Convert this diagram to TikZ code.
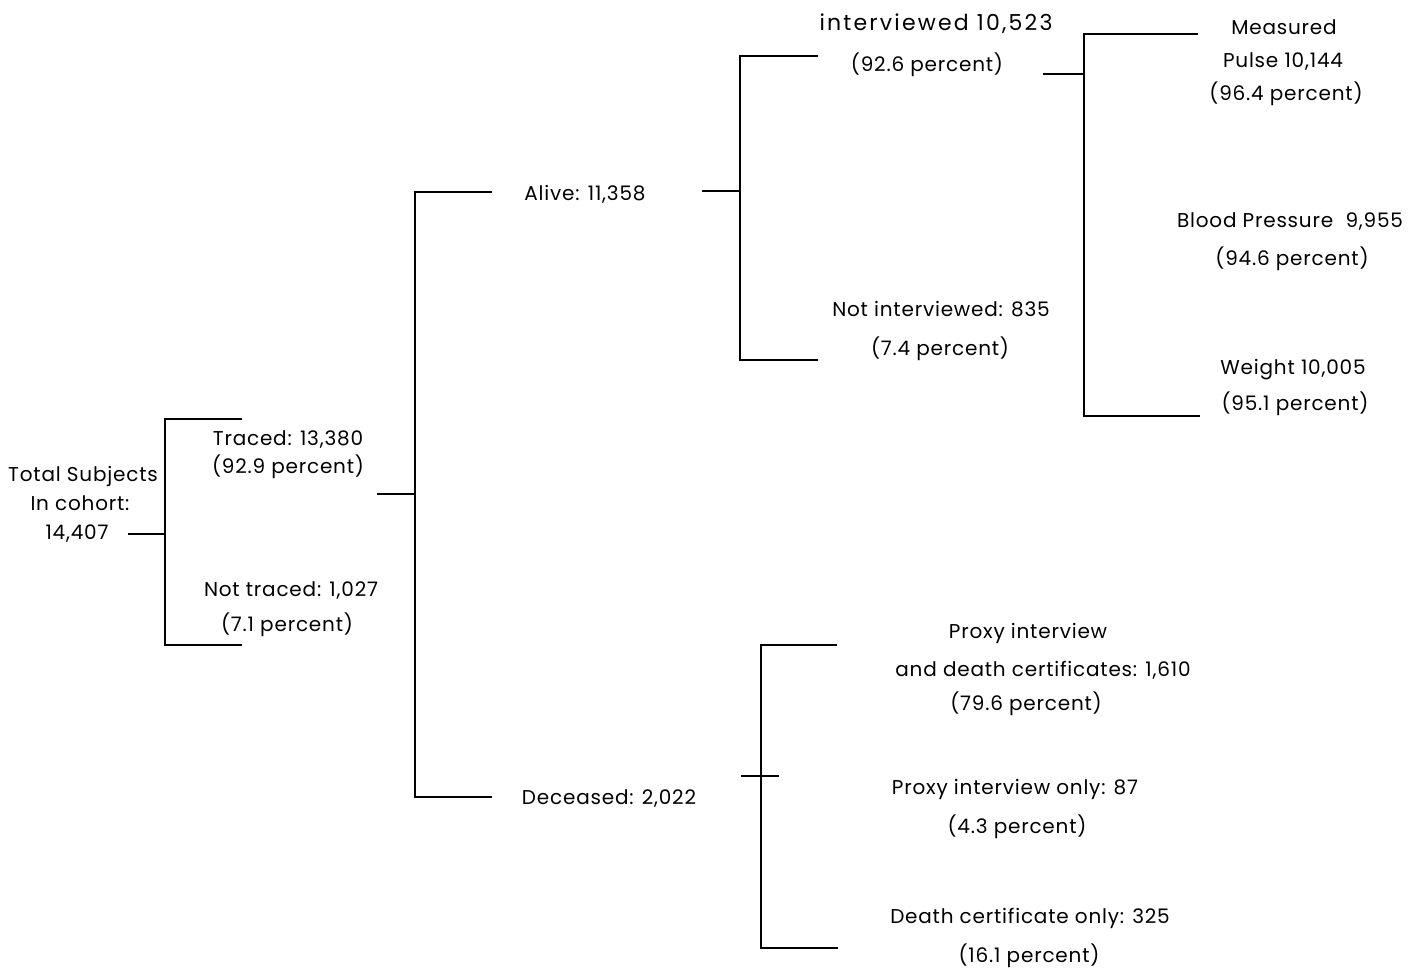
\documentclass[tikz,border=0pt]{standalone}
\usepackage{fontspec}
\setmainfont{Poppins}[LetterSpace=4]
\newfontfamily\widefont{Poppins}[LetterSpace=10]
\begin{document}
\begin{tikzpicture}[x=1pt,y=-1pt,
  lab/.style={anchor=base,inner sep=0pt,font=\fontsize{20}{22}\selectfont},
  widelab/.style={anchor=base,inner sep=0pt,font=\widefont\fontsize{22}{24}\selectfont},
  conn/.style={line width=1.6pt,line cap=butt}]
\useasboundingbox (0,0) rectangle (1423,967);
% labels
\node[lab] (tot1) at (83,481) {Total Subjects};
\node[lab] (tot2) at (80,510) {In cohort:};
\node[lab] (tot3) at (77,539) {14,407};
\node[lab] (tr1) at (288,445) {Traced: 13,380};
\node[lab] (tr2) at (288,473) {(92.9 percent)};
\node[lab] (nt1) at (291,596) {Not traced: 1,027};
\node[lab] (nt2) at (287,631) {(7.1 percent)};
\node[lab] (al) at (585,200) {Alive: 11,358};
\node[lab] (de) at (609,804) {Deceased: 2,022};
\node[widelab] (iv1) at (936,30) {interviewed 10,523};
\node[lab] (iv2) at (927,71) {(92.6 percent)};
\node[lab] (ni1) at (941,316) {Not interviewed: 835};
\node[lab] (ni2) at (940,355) {(7.4 percent)};
\node[lab] (pu1) at (1284,34) {Measured};
\node[lab] (pu2) at (1283,67) {Pulse 10,144};
\node[lab] (pu3) at (1286,100) {(96.4 percent)};
\node[lab] (bp1) at (1290,227) {Blood Pressure\ \ 9,955};
\node[lab] (bp2) at (1292,265) {(94.6 percent)};
\node[lab] (wt1) at (1293,374) {Weight 10,005};
\node[lab] (wt2) at (1295,410) {(95.1 percent)};
\node[lab] (pd1) at (1028,638) {Proxy interview};
\node[lab] (pd2) at (1043,676) {and death certificates: 1,610};
\node[lab] (pd3) at (1026,710) {(79.6 percent)};
\node[lab] (po1) at (1015,794) {Proxy interview only: 87};
\node[lab] (po2) at (1017,833) {(4.3 percent)};
\node[lab] (dc1) at (1030,923) {Death certificate only: 325};
\node[lab] (dc2) at (1029,962) {(16.1 percent)};
% connector points
\coordinate (r0) at (128,534);
\coordinate (r1) at (165,534);
\coordinate (r1t) at (165,419);
\coordinate (r1b) at (165,645);
\coordinate (trE) at (242,419);
\coordinate (ntE) at (242,645);
\coordinate (t0) at (377,494);
\coordinate (t1) at (415,494);
\coordinate (t1t) at (415,192);
\coordinate (t1b) at (415,797);
\coordinate (alE) at (492,192);
\coordinate (deE) at (492,797);
\coordinate (a0) at (702,191);
\coordinate (a1) at (740,191);
\coordinate (a1t) at (740,56);
\coordinate (a1b) at (740,360);
\coordinate (ivE) at (818,56);
\coordinate (niE) at (818,360);
\coordinate (i0) at (1043,74);
\coordinate (i1) at (1084,74);
\coordinate (i1t) at (1084,34);
\coordinate (i1b) at (1084,416);
\coordinate (puE) at (1198,34);
\coordinate (wtE) at (1200,416);
\coordinate (d0) at (741,776);
\coordinate (d1) at (761,776);
\coordinate (d2) at (779,776);
\coordinate (d1t) at (761,645);
\coordinate (d1b) at (761,948);
\coordinate (pdE) at (837,645);
\coordinate (dcE) at (838,948);
% connectors
\draw[conn] (r0) -- (r1);
\draw[conn] (trE) -- (r1t) -- (r1b) -- (ntE);
\draw[conn] (t0) -- (t1);
\draw[conn] (alE) -- (t1t) -- (t1b) -- (deE);
\draw[conn] (a0) -- (a1);
\draw[conn] (ivE) -- (a1t) -- (a1b) -- (niE);
\draw[conn] (i0) -- (i1);
\draw[conn] (puE) -- (i1t) -- (i1b) -- (wtE);
\draw[conn] (d0) -- (d2);
\draw[conn] (pdE) -- (d1t) -- (d1b) -- (dcE);
\end{tikzpicture}
\end{document}
